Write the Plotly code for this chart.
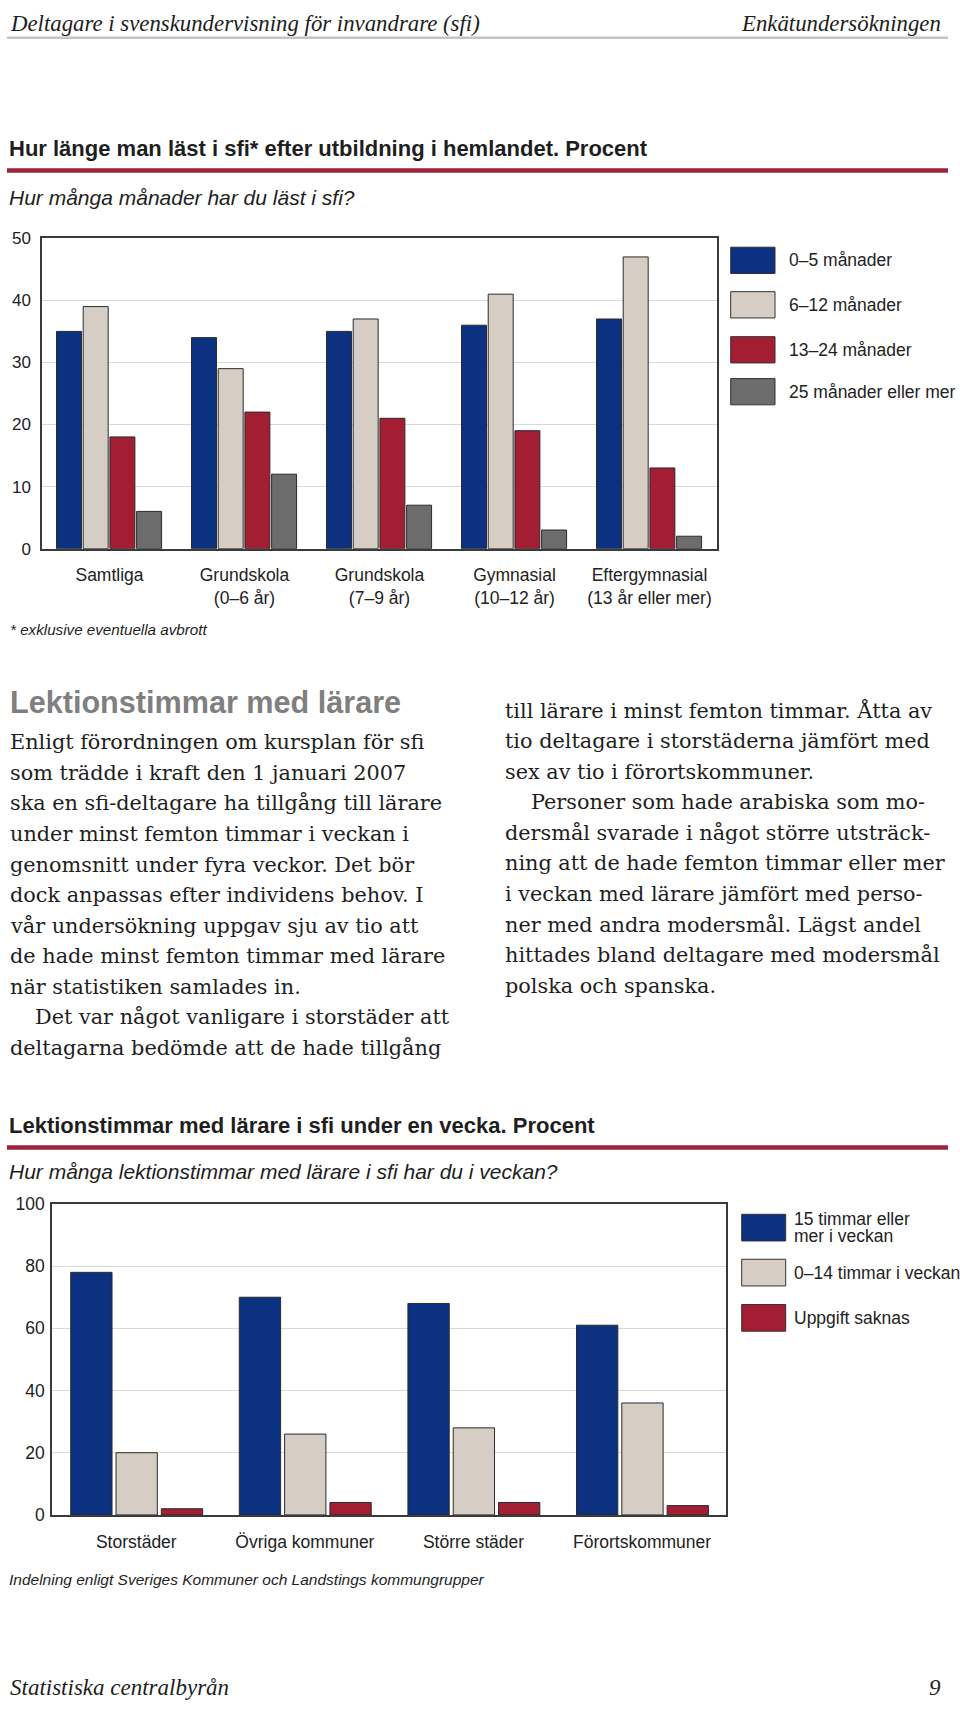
import plotly.graph_objects as go

W, H = 960, 1715

# ---------------- data ----------------
categories_1 = ["Samtliga", "Grundskola<br>(0–6 år)", "Grundskola<br>(7–9 år)",
                "Gymnasial<br>(10–12 år)", "Eftergymnasial<br>(13 år eller mer)"]
series_1 = ["0–5 månader", "6–12 månader", "13–24 månader", "25 månader eller mer"]
m0_5 = [35, 34, 35, 36, 37]
m6_12 = [39, 29, 37, 41, 47]
m13_24 = [18, 22, 21, 19, 13]
m25_plus = [6, 12, 7, 3, 2]
values_1 = [m0_5, m6_12, m13_24, m25_plus]
yticks_1 = [0, 10, 20, 30, 40, 50]

categories_2 = ["Storstäder", "Övriga kommuner", "Större städer", "Förortskommuner"]
series_2 = ["15 timmar eller<br>mer i veckan", "0–14 timmar i veckan", "Uppgift saknas"]
h15_plus = [78, 70, 68, 61]
h0_14 = [20, 26, 28, 36]
missing = [2, 4, 4, 3]
values_2 = [h15_plus, h0_14, missing]
yticks_2 = [0, 20, 40, 60, 80, 100]

header_left = "Deltagare i svenskundervisning för invandrare (sfi)"
header_right = "Enkätundersökningen"
title_1 = "Hur länge man läst i sfi* efter utbildning i hemlandet. Procent"
subtitle_1 = "Hur många månader har du läst i sfi?"
note_1 = "* exklusive eventuella avbrott"
section_heading = "Lektionstimmar med lärare"
left_lines = [
    "Enligt förordningen om kursplan för sfi",
    "som trädde i kraft den 1 januari 2007",
    "ska en sfi-deltagare ha tillgång till lärare",
    "under minst femton timmar i veckan i",
    "genomsnitt under fyra veckor. Det bör",
    "dock anpassas efter individens behov. I",
    "vår undersökning uppgav sju av tio att",
    "de hade minst femton timmar med lärare",
    "när statistiken samlades in.",
    "Det var något vanligare i storstäder att",
    "deltagarna bedömde att de hade tillgång",
]
left_indent = [9]
right_lines = [
    "till lärare i minst femton timmar. Åtta av",
    "tio deltagare i storstäderna jämfört med",
    "sex av tio i förortskommuner.",
    "Personer som hade arabiska som mo-",
    "dersmål svarade i något större utsträck-",
    "ning att de hade femton timmar eller mer",
    "i veckan med lärare jämfört med perso-",
    "ner med andra modersmål. Lägst andel",
    "hittades bland deltagare med modersmål",
    "polska och spanska.",
]
right_indent = [3]
title_2 = "Lektionstimmar med lärare i sfi under en vecka. Procent"
subtitle_2 = "Hur många lektionstimmar med lärare i sfi har du i veckan?"
note_2 = "Indelning enligt Sveriges Kommuner och Landstings kommungrupper"
footer_left = "Statistiska centralbyrån"
footer_right = "9"

colors_1 = ["#0b3180", "#d6cec4", "#a31d33", "#6c6c6c"]
colors_2 = ["#0b3180", "#d6cec4", "#a31d33"]

# ---------------- helpers ----------------
def px(x):
    return x / W

def py(y):
    return 1 - y / H

SANS = "Liberation Sans, Arial, sans-serif"
SERIF = "Liberation Serif, Times New Roman, serif"
BODY = "DejaVu Serif, serif"
TXT = "#1e1e1e"

fig = go.Figure()

# chart 1 bars
w1, step1, start1 = 0.185, 0.1978, -0.3926
for i, (name, vals) in enumerate(zip(series_1, values_1)):
    fig.add_trace(go.Bar(
        x=categories_1, y=vals, name=name, xaxis="x", yaxis="y",
        width=w1, offset=start1 + i * step1,
        marker=dict(color=colors_1[i], line=dict(color="#2b2b2b", width=1)),
        showlegend=False, hoverinfo="skip"))

# chart 2 bars
w2, step2, start2 = 0.245, 0.2687, -0.389
for i, (name, vals) in enumerate(zip(series_2, values_2)):
    fig.add_trace(go.Bar(
        x=categories_2, y=vals, name=name, xaxis="x2", yaxis="y2",
        width=w2, offset=start2 + i * step2,
        marker=dict(color=colors_2[i], line=dict(color="#2b2b2b", width=1)),
        showlegend=False, hoverinfo="skip"))

axis_common = dict(showline=True, mirror=True, linecolor="#3a3a3a", linewidth=1.5,
                   zeroline=False, fixedrange=True)

shapes = []
ann = []

def text(x, y, s, size, family=SANS, color=TXT, xanchor="left", yanchor="middle", bold=False, italic=False):
    if bold:
        s = "<b>" + s + "</b>"
    if italic:
        s = "<i>" + s + "</i>"
    ann.append(dict(x=px(x), y=py(y), xref="paper", yref="paper", text=s, showarrow=False,
                    xanchor=xanchor, yanchor=yanchor, align="left",
                    font=dict(size=size, family=family, color=color)))

def hline(x0, x1, y, color, width):
    shapes.append(dict(type="line", xref="paper", yref="paper", x0=px(x0), x1=px(x1),
                       y0=py(y), y1=py(y), line=dict(color=color, width=width)))

def box(x0, x1, y0, y1, color):
    shapes.append(dict(type="rect", xref="paper", yref="paper", x0=px(x0), x1=px(x1),
                       y0=py(y1), y1=py(y0), fillcolor=color,
                       line=dict(color="#333333", width=1)))

# header
text(8, 14, header_left, 22.8, family=SERIF, italic=True)
text(943, 14, header_right, 22.8, family=SERIF, italic=True, xanchor="right")
hline(7, 948, 28, "#c4c4c4", 2.5)

# chart 1 titles
text(7, 140, title_1, 22, bold=True)
hline(7, 948, 162.5, "#9c2339", 4.5)
text(7, 190, subtitle_1, 21, italic=True)

# legend 1
leg1_y = [253.3, 298.3, 343.8, 386.2]
for i, name in enumerate(series_1):
    box(730.7, 775, leg1_y[i] - 13.3, leg1_y[i] + 13.3, colors_1[i])
    text(787, leg1_y[i], name, 17.5, color="#222222")

text(8, 627, note_1, 15.2, italic=True)

# body text
text(8, 700, section_heading, 30.6, color="#7f7f7f", bold=True)
for k, line in enumerate(left_lines):
    x = 33 if k in left_indent else 8
    text(x, 741 + k * 30.9, line, 20.8, family=BODY)
for k, line in enumerate(right_lines):
    x = 529 if k in right_indent else 503
    text(x, 708.5 + k * 31.0, line, 20.8, family=BODY)

# chart 2 titles
text(7, 1129, title_2, 22, bold=True)
hline(7, 948, 1151, "#9c2339", 4.5)
text(7, 1175, subtitle_2, 21, italic=True)

# legend 2
leg2_y = [1232, 1277.5, 1323.3]
for i, name in enumerate(series_2):
    box(741.7, 785.7, leg2_y[i] - 13.5, leg2_y[i] + 13.5, colors_2[i])
    parts = name.split("<br>")
    if len(parts) == 1:
        text(792.3, leg2_y[i], parts[0], 17.5, color="#222222")
    else:
        text(792.3, leg2_y[i] - 8.3, parts[0], 17.5, color="#222222")
        text(792.3, leg2_y[i] + 8.3, parts[1], 17.5, color="#222222")

text(7, 1588, note_2, 15.5, italic=True)

# footer
text(8, 1697, footer_left, 23, family=SERIF, italic=True)
text(943, 1697, footer_right, 23, family=SERIF, italic=True, xanchor="right")

fig.update_layout(
    width=W, height=H, margin=dict(l=0, r=0, t=0, b=0),
    paper_bgcolor="white", plot_bgcolor="white",
    barmode="overlay", showlegend=False,
    shapes=shapes, annotations=ann,
    xaxis=dict(domain=[px(42), px(717)], anchor="y", type="category",
               ticks="outside", ticklen=10, tickcolor="rgba(0,0,0,0)",
               tickfont=dict(family=SANS, size=17.5, color="#222222"),
               showgrid=False, **axis_common),
    yaxis=dict(domain=[py(545), py(231)], anchor="x", range=[0, 50],
               tickvals=yticks_1, ticks="outside", ticklen=6, tickcolor="rgba(0,0,0,0)",
               tickfont=dict(family=SANS, size=17, color="#222222"),
               showgrid=True, gridcolor="#d9d9d9", gridwidth=1, **axis_common),
    xaxis2=dict(domain=[px(52), px(726.4)], anchor="y2", type="category",
                ticks="outside", ticklen=10, tickcolor="rgba(0,0,0,0)",
                tickfont=dict(family=SANS, size=17.5, color="#222222"),
                showgrid=False, **axis_common),
    yaxis2=dict(domain=[py(1522.7), py(1208)], anchor="x2", range=[0, 100],
                tickvals=yticks_2, ticks="outside", ticklen=2, tickcolor="rgba(0,0,0,0)",
                tickfont=dict(family=SANS, size=17.5, color="#222222"),
                showgrid=True, gridcolor="#d9d9d9", gridwidth=1, **axis_common),
)

fig.write_html("out.html")
